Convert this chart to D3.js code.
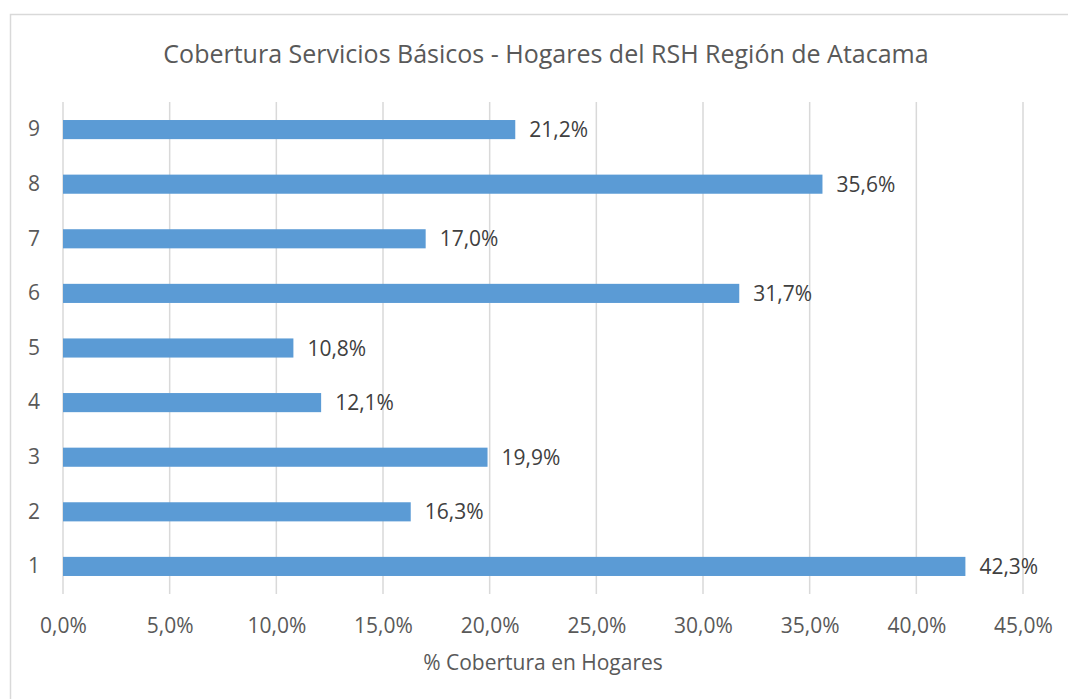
<!DOCTYPE html>
<html>
<head>
<meta charset="utf-8">
<script src="https://cdn.jsdelivr.net/npm/d3@7"></script>
<style>
  html,body{margin:0;padding:0;background:#fff;}
  svg{display:block;}
  text{font-family:"Open Sans","Noto Sans",sans-serif;fill:#595959;}
</style>
</head>
<body>
<svg id="chart" width="1068" height="699"></svg>
<script>
// ===== data =====
const categories = ["1","2","3","4","5","6","7","8","9"];
const values = [42.3, 16.3, 19.9, 12.1, 10.8, 31.7, 17.0, 35.6, 21.2];
const xTicks = [0,5,10,15,20,25,30,35,40,45];
const title = "Cobertura Servicios Básicos - Hogares del RSH Región de Atacama";
const xTitle = "% Cobertura en Hogares";

const fmt = v => v.toFixed(1).replace(".", ",") + "%";

// ===== layout =====
const W = 1068, H = 699;
const M = {top:102, right:45, bottom:105, left:63};
const innerW = W - M.left - M.right; // 45% ends at ~1023
const innerH = H - M.top - M.bottom;

const svg = d3.select("#chart");

// frame
svg.append("rect")
  .attr("x",10.5).attr("y",14.5)
  .attr("width",W).attr("height",H)
  .attr("fill","#fff").attr("stroke","#d9d9d9").attr("stroke-width",1.5);

const x = d3.scaleLinear().domain([0,45]).range([M.left, M.left + innerW]);
const y = d3.scaleBand()
  .domain(categories.slice().reverse())
  .range([M.top, M.top + innerH])
  .paddingInner(0.65).paddingOuter(0.33);

// grid
svg.append("g")
  .selectAll("line").data(xTicks).join("line")
  .attr("x1", d => x(d)).attr("x2", d => x(d))
  .attr("y1", M.top).attr("y2", M.top + innerH)
  .attr("stroke","#d9d9d9").attr("stroke-width",1.5);

// bars
svg.append("g")
  .selectAll("rect").data(categories).join("rect")
  .attr("x", x(0))
  .attr("y", (d) => y(d))
  .attr("width", (d,i) => x(values[i]) - x(0))
  .attr("height", y.bandwidth())
  .attr("fill","#5b9bd5");

// value labels
svg.append("g")
  .selectAll("text").data(categories).join("text")
  .attr("x", (d,i) => x(values[i]) + 14)
  .attr("y", d => y(d) + y.bandwidth()/2)
  .attr("dy","0.36em")
  .style("font-size","21px")
  .style("fill","#404040")
  .text((d,i) => fmt(values[i]));

// y axis labels
const gy = svg.append("g")
  .attr("transform",`translate(${M.left},0)`)
  .call(d3.axisLeft(y).tickSize(0).tickPadding(23));
gy.select(".domain").remove();
gy.selectAll("text").style("font-size","21px").style("fill","#595959");

// x axis labels
const gx = svg.append("g")
  .attr("transform",`translate(0,${M.top + innerH})`)
  .call(d3.axisBottom(x).tickValues(xTicks).tickSize(0).tickPadding(24).tickFormat(fmt));
gx.select(".domain").remove();
gx.selectAll("text").style("font-size","21px").style("fill","#595959");

// titles
svg.append("text")
  .attr("x", 546).attr("y", 63)
  .attr("text-anchor","middle")
  .style("font-size","25px")
  .text(title);

svg.append("text")
  .attr("x", 543).attr("y", 670)
  .attr("text-anchor","middle")
  .style("font-size","21px")
  .text(xTitle);
</script>
</body>
</html>
